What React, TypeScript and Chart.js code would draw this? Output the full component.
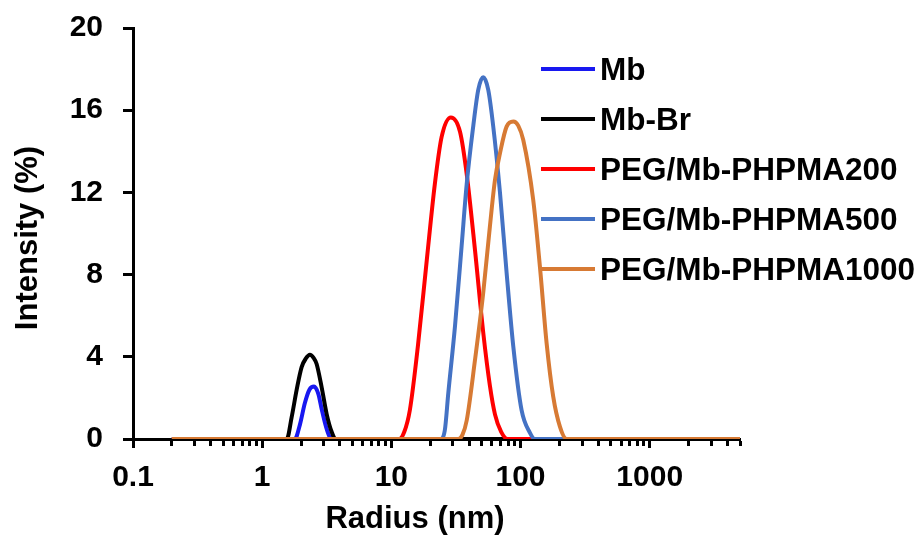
import { useEffect, useRef } from 'react';
import { Chart, registerables } from 'chart.js';

Chart.register(...registerables);

const FONT = '"Liberation Sans", Arial, Helvetica, sans-serif';

const seriesLabels = ['Mb', 'Mb-Br', 'PEG/Mb-PHPMA200', 'PEG/Mb-PHPMA500', 'PEG/Mb-PHPMA1000'];
const seriesColors = ['#1818F0', '#000000', '#FF0000', '#4472C4', '#D77A34'];

// Radius (nm) / Intensity (%) pairs
const mbRadius = [0.2, 1.79, 1.96, 2.14, 2.32, 2.52, 2.72, 2.89, 3.12, 3.35, 3.6, 5000];
const mbIntensity = [0, 0, 0.7, 1.75, 2.4, 2.55, 2.2, 1.45, 0.6, 0.08, 0, 0];

const mbBrRadius = [0.2, 1.55, 1.69, 1.85, 2.02, 2.18, 2.34, 2.5, 2.64, 2.89, 3.16, 3.45, 3.7, 5000];
const mbBrIntensity = [0, 0, 1.05, 2.4, 3.5, 3.92, 4.1, 3.95, 3.65, 2.5, 1.2, 0.35, 0, 0];

const peg200Radius = [0.2, 11.5, 12.6, 13.9, 16.1, 18.8, 21.7, 24.5, 28.9, 34.0, 38.3, 44.4, 51.4, 57.9, 63.4, 70.8, 79.4, 5000];
const peg200Intensity = [0, 0, 0.35, 1.4, 4.6, 8.7, 12.4, 14.7, 15.65, 14.95, 12.9, 9.2, 5.2, 2.6, 1.2, 0.35, 0, 0];

const peg500Radius = [0.2, 24.0, 25.9, 27.6, 31.1, 35.0, 38.3, 43.0, 47.1, 51.4, 56.2, 61.5, 69.3, 78.0, 87.9, 101.9, 118.3, 129, 5000];
const peg500Intensity = [0, 0, 0.4, 2.24, 5.5, 9.4, 12.4, 15.2, 17.0, 17.6, 17.0, 15.2, 12.0, 8.1, 4.5, 1.4, 0.3, 0, 0];

const peg1000Radius = [0.2, 33.0, 35.5, 38.3, 44.4, 51.4, 57.9, 63.4, 69.3, 78.0, 87.9, 96.0, 105.0, 125.4, 141.3, 159.2, 179.1, 201.8, 227, 5000];
const peg1000Intensity = [0, 0, 0.2, 0.9, 3.84, 7.1, 10.33, 12.6, 13.9, 15.2, 15.45, 15.25, 14.55, 11.63, 8.38, 4.66, 2.06, 0.6, 0, 0];

const seriesRadius = [mbRadius, mbBrRadius, peg200Radius, peg500Radius, peg1000Radius];
const seriesIntensity = [mbIntensity, mbBrIntensity, peg200Intensity, peg500Intensity, peg1000Intensity];
const drawOrder = [4, 3, 2, 1, 0];

const xMin = 0.1;
const xMax = 5000;
const xDecades = [0.1, 1, 10, 100, 1000];
const xMinorSteps = [1, 2, 3, 4, 5, 6, 7, 8, 9];
const xTickLabels = ['0.1', '1', '10', '100', '1000'];
const yMin = 0;
const yMax = 20;
const yStep = 4;

const xTitle = 'Radius (nm)';
const yTitle = 'Intensity (%)';

const xTickValues: number[] = [];
xDecades.forEach((d) => {
  xMinorSteps.forEach((m) => {
    const v = Number((d * m).toPrecision(6));
    if (v <= xMax) xTickValues.push(v);
  });
});
if (!xTickValues.includes(xMax)) xTickValues.push(xMax);

const isDecade = (v: number) => {
  const l = Math.log10(v);
  return Math.abs(l - Math.round(l)) < 1e-6;
};

const overlayPlugin = {
  id: 'overlayTexts',
  afterDraw(chart: any) {
    const ctx = chart.ctx as CanvasRenderingContext2D;
    ctx.save();
    // legend
    chart.data.datasets.forEach((ds: any, i: number) => {
      const base = 80 + i * 50;
      ctx.strokeStyle = ds.borderColor;
      ctx.lineWidth = 4;
      ctx.lineCap = 'butt';
      ctx.beginPath();
      ctx.moveTo(541, base - 11);
      ctx.lineTo(595, base - 11);
      ctx.stroke();
      ctx.fillStyle = '#000000';
      ctx.font = `bold 31.5px ${FONT}`;
      ctx.textAlign = 'left';
      ctx.textBaseline = 'alphabetic';
      ctx.fillText(ds.label, 600, base);
    });
    // x title
    ctx.fillStyle = '#000000';
    ctx.font = `bold 31px ${FONT}`;
    ctx.textAlign = 'center';
    ctx.textBaseline = 'alphabetic';
    ctx.fillText(xTitle, 415, 528);
    // y title
    ctx.translate(37, 238);
    ctx.rotate(-Math.PI / 2);
    ctx.fillText(yTitle, 0, 0);
    ctx.restore();
  },
};

export default function App() {
  const ref = useRef<HTMLCanvasElement | null>(null);

  useEffect(() => {
    if (!ref.current) return;
    const chart = new Chart(ref.current, {
      type: 'line',
      data: {
        datasets: seriesLabels.map((label, i) => ({
          label,
          data: seriesRadius[i].map((r, j) => ({ x: r, y: seriesIntensity[i][j] })),
          borderColor: seriesColors[i],
          backgroundColor: seriesColors[i],
          borderWidth: 4,
          pointRadius: 0,
          pointHoverRadius: 0,
          fill: false,
          cubicInterpolationMode: 'monotone' as const,
          borderJoinStyle: 'round' as const,
          order: drawOrder[i],
        })),
      },
      options: {
        responsive: false,
        animation: false,
        devicePixelRatio: 1,
        events: [],
        layout: { padding: { left: 0, top: 28, right: 183, bottom: 0 } },
        plugins: {
          legend: { display: false },
          tooltip: { enabled: false },
          title: { display: false },
        },
        scales: {
          x: {
            type: 'logarithmic',
            min: xMin,
            max: xMax,
            afterBuildTicks: (scale: any) => {
              scale.ticks = xTickValues.map((v) => ({ value: v, major: isDecade(v) }));
            },
            afterFit: (scale: any) => {
              scale.height = 97;
              scale.paddingLeft = 0;
              scale.paddingRight = 0;
            },
            border: { display: true, color: '#000000', width: 3 },
            grid: {
              display: true,
              drawOnChartArea: false,
              drawTicks: true,
              tickLength: 9,
              tickColor: '#000000',
              tickWidth: 3,
              tickBorderDash: (c: any) => (c.tick && isDecade(c.tick.value) ? [] : [5, 30]),
            },
            ticks: {
              autoSkip: false,
              maxRotation: 0,
              minRotation: 0,
              padding: 12,
              color: '#000000',
              font: { family: FONT, size: 30, weight: 'bold' },
              callback: (value: any) => {
                const s = String(value);
                return xTickLabels.includes(s) ? s : '';
              },
            },
          },
          y: {
            type: 'linear',
            min: yMin,
            max: yMax,
            afterFit: (scale: any) => {
              scale.width = 133;
              scale.paddingTop = 0;
              scale.paddingBottom = 0;
            },
            border: { display: true, color: '#000000', width: 3 },
            grid: {
              display: true,
              drawOnChartArea: false,
              drawTicks: true,
              tickLength: 10,
              tickColor: '#000000',
              tickWidth: 3,
            },
            ticks: {
              stepSize: yStep,
              padding: 20,
              color: '#000000',
              font: { family: FONT, size: 30, weight: 'bold' },
            },
          },
        },
      },
      plugins: [overlayPlugin],
    } as any);
    return () => chart.destroy();
  }, []);

  return (
    <div style={{ position: 'fixed', left: 0, top: 0, width: 923, height: 536, background: '#ffffff' }}>
      <canvas ref={ref} width={923} height={536} style={{ display: 'block', width: 923, height: 536 }} />
    </div>
  );
}
